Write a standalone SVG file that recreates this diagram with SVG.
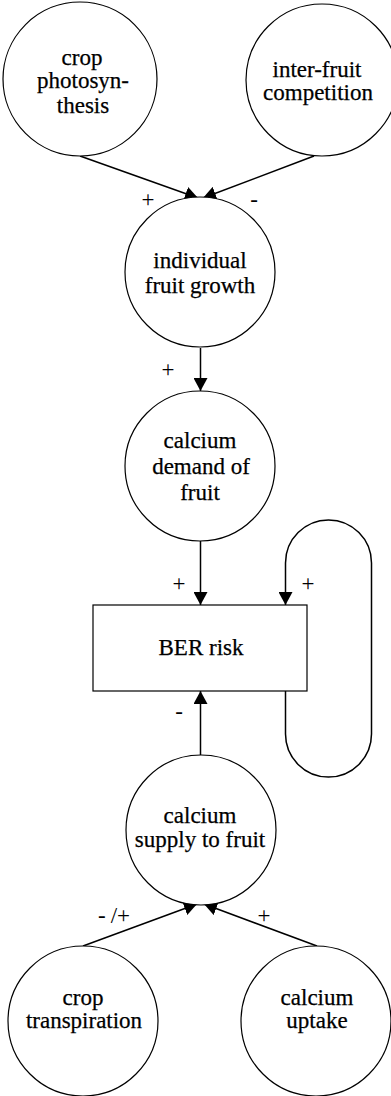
<svg xmlns="http://www.w3.org/2000/svg" width="391" height="1096" viewBox="0 0 391 1096">
  <style>
    .node circle, .node rect { fill: #fff; stroke: #000; stroke-width: 1.2; }
    .node text { font-family: "Liberation Serif", "Times New Roman", serif; font-size: 23px; text-anchor: middle; fill: #000; stroke: #000; stroke-width: 0.25; }
    .edge { fill: none; stroke: #000; stroke-width: 1.5; }
    .sign { font-family: "Liberation Serif", "Times New Roman", serif; font-size: 23px; text-anchor: middle; fill: #000; }
  </style>
  <defs>
    <marker id="arrow" viewBox="0 0 13 14" refX="13" refY="7" markerWidth="13" markerHeight="14" orient="auto" markerUnits="userSpaceOnUse">
      <path d="M0,0 L13,7 L0,14 z" fill="#000"/>
    </marker>
  </defs>
  <rect width="391" height="1096" fill="#fff"/>

  <g id="connectors">
    <line class="edge" x1="80" y1="156" x2="198" y2="198" marker-end="url(#arrow)"/>
    <line class="edge" x1="314" y1="156" x2="203" y2="198" marker-end="url(#arrow)"/>
    <line class="edge" x1="200.5" y1="348" x2="200.5" y2="391" marker-end="url(#arrow)"/>
    <line class="edge" x1="200.5" y1="541" x2="200.5" y2="605" marker-end="url(#arrow)"/>
    <path class="edge" d="M285.5,691 V734 A43,43 0 0 0 371.5,734 V563 A43,43 0 0 0 285.5,563 V605" marker-end="url(#arrow)"/>
    <line class="edge" x1="200.5" y1="755" x2="200.5" y2="691" marker-end="url(#arrow)"/>
    <line class="edge" x1="83" y1="946" x2="197" y2="904" marker-end="url(#arrow)"/>
    <line class="edge" x1="317" y1="946" x2="204" y2="904" marker-end="url(#arrow)"/>
    <text class="sign" x="148" y="207">+</text>
    <text class="sign" x="254" y="207">-</text>
    <text class="sign" x="168" y="377">+</text>
    <text class="sign" x="179" y="591">+</text>
    <text class="sign" x="308" y="591">+</text>
    <text class="sign" x="179" y="719">-</text>
    <text class="sign" x="114" y="923">-<tspan dx="5">/+</tspan></text>
    <text class="sign" x="264" y="923">+</text>
  </g>

  <g id="crop-photosynthesis" class="node">
    <circle cx="80" cy="79" r="77"/>
    <text x="82" y="65">crop</text>
    <text x="83" y="88">photosyn-</text>
    <text x="83" y="113">thesis</text>
  </g>

  <g id="inter-fruit-competition" class="node">
    <circle cx="322" cy="80" r="76"/>
    <text x="317" y="77">inter-fruit</text>
    <text x="318" y="100">competition</text>
  </g>

  <g id="individual-fruit-growth" class="node">
    <circle cx="200" cy="272" r="75"/>
    <text x="200" y="268">individual</text>
    <text x="200" y="293">fruit growth</text>
  </g>

  <g id="calcium-demand" class="node">
    <circle cx="200" cy="466" r="75"/>
    <text x="200" y="448">calcium</text>
    <text x="201" y="474">demand of</text>
    <text x="200" y="500">fruit</text>
  </g>

  <g id="ber-risk" class="node">
    <rect x="93" y="605" width="214" height="86"/>
    <text x="201" y="655">BER risk</text>
  </g>

  <g id="calcium-supply" class="node">
    <circle cx="201" cy="830" r="75"/>
    <text x="200" y="823">calcium</text>
    <text x="200" y="847">supply to fruit</text>
  </g>

  <g id="crop-transpiration" class="node">
    <circle cx="83" cy="1021" r="75"/>
    <text x="83" y="1005">crop</text>
    <text x="84" y="1028">transpiration</text>
  </g>

  <g id="calcium-uptake" class="node">
    <circle cx="316" cy="1021" r="75"/>
    <text x="317" y="1005">calcium</text>
    <text x="317" y="1028">uptake</text>
  </g>
</svg>
